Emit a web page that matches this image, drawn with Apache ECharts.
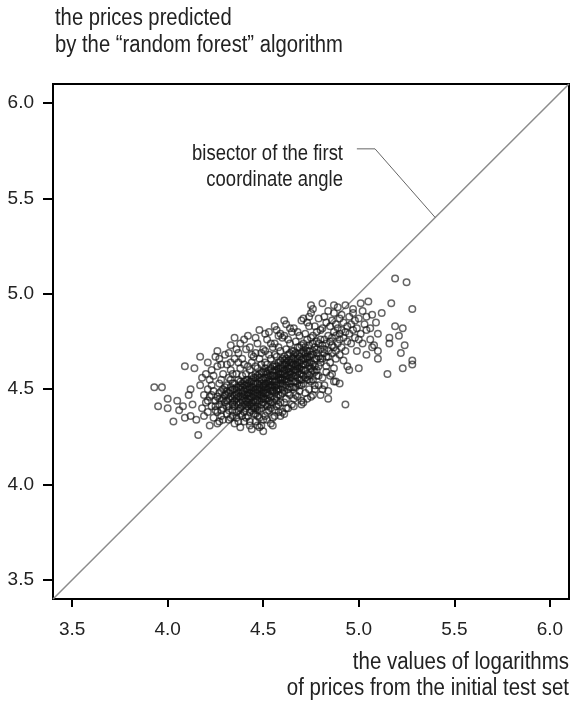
<!DOCTYPE html>
<html>
<head>
<meta charset="utf-8">
<script src="https://cdn.jsdelivr.net/npm/echarts@6/dist/echarts.min.js"></script>
<style>
html,body{margin:0;padding:0;background:#fff;}
#chart{width:571px;height:705px;}
</style>
</head>
<body>
<div id="chart"></div>
<script>
// Axis ticks
var tickValues = [3.5, 4.0, 4.5, 5.0, 5.5, 6.0];
var axisRange = [3.4, 6.1];

// Test-set points: [log price actual, log price predicted]
var leftTail = [[3.93,4.51],[3.97,4.51],[4.00,4.45],[3.95,4.41],[4.00,4.40],[4.03,4.33],[4.06,4.39],[4.08,4.41],[4.09,4.35],[4.12,4.36],[4.15,4.34],[4.16,4.26],[4.09,4.62],[4.14,4.61],[4.17,4.67],[4.05,4.44],[4.11,4.47],[4.13,4.42],[4.18,4.40],[4.19,4.47],[4.17,4.52],[4.19,4.36],[4.12,4.50],[4.18,4.56],
[4.35,4.77],[4.48,4.81],[4.22,4.31],[4.26,4.32],[4.47,4.31],[4.50,4.28],[4.27,4.66],[4.33,4.64]];

var coreCloud = [
[4.20,4.43],[4.21,4.50],[4.21,4.38],[4.22,4.55],[4.22,4.46],[4.23,4.41],[4.23,4.60],[4.24,4.49],[4.24,4.35],[4.20,4.58],[4.25,4.44],[4.21,4.64],[4.23,4.52],[4.25,4.39],[4.24,4.57],
[4.26,4.46],[4.26,4.38],[4.27,4.53],[4.27,4.42],[4.28,4.49],[4.28,4.36],[4.29,4.58],[4.29,4.45],[4.26,4.62],[4.27,4.33],[4.28,4.55],[4.29,4.40],[4.30,4.51],[4.30,4.47],[4.26,4.70],[4.28,4.44],[4.29,4.34],[4.27,4.48],
[4.31,4.44],[4.31,4.52],[4.31,4.37],[4.32,4.48],[4.32,4.56],[4.32,4.41],[4.33,4.46],[4.33,4.35],[4.33,4.60],[4.34,4.50],[4.34,4.43],[4.34,4.39],[4.35,4.53],[4.35,4.47],[4.35,4.32],[4.31,4.63],[4.32,4.69],[4.33,4.55],[4.34,4.58],[4.35,4.41],[4.32,4.34],[4.34,4.45],[4.31,4.49],[4.33,4.51],[4.35,4.66],
[4.36,4.45],[4.36,4.51],[4.36,4.38],[4.36,4.58],[4.37,4.48],[4.37,4.42],[4.37,4.55],[4.37,4.33],[4.38,4.50],[4.38,4.46],[4.38,4.61],[4.38,4.40],[4.39,4.53],[4.39,4.44],[4.39,4.36],[4.39,4.57],[4.40,4.49],[4.40,4.42],[4.40,4.63],[4.36,4.71],[4.37,4.64],[4.38,4.30],[4.39,4.48],[4.40,4.54],[4.36,4.47],[4.37,4.51],[4.38,4.54],[4.39,4.41],[4.40,4.38],[4.38,4.74],
[4.41,4.47],[4.41,4.52],[4.41,4.40],[4.41,4.58],[4.42,4.45],[4.42,4.50],[4.42,4.36],[4.42,4.62],[4.43,4.48],[4.43,4.54],[4.43,4.42],[4.43,4.33],[4.44,4.51],[4.44,4.46],[4.44,4.57],[4.44,4.39],[4.45,4.49],[4.45,4.53],[4.45,4.44],[4.45,4.67],[4.41,4.71],[4.42,4.55],[4.43,4.60],[4.44,4.29],[4.45,4.37],[4.41,4.44],[4.42,4.41],[4.43,4.51],[4.44,4.64],[4.45,4.56],[4.42,4.78],[4.43,4.46],[4.44,4.43],[4.41,4.35],[4.45,4.41],[4.43,4.38],[4.42,4.48],[4.44,4.54],
[4.46,4.50],[4.46,4.45],[4.46,4.56],[4.46,4.40],[4.47,4.53],[4.47,4.48],[4.47,4.61],[4.47,4.36],[4.48,4.51],[4.48,4.44],[4.48,4.58],[4.48,4.39],[4.49,4.55],[4.49,4.47],[4.49,4.63],[4.49,4.42],[4.50,4.52],[4.50,4.46],[4.50,4.59],[4.50,4.34],[4.46,4.69],[4.47,4.41],[4.48,4.66],[4.49,4.31],[4.50,4.71],[4.46,4.53],[4.47,4.57],[4.48,4.47],[4.49,4.50],[4.50,4.43],[4.46,4.37],[4.47,4.44],[4.48,4.54],[4.49,4.59],[4.50,4.55],[4.46,4.62],[4.47,4.74],[4.48,4.35],[4.49,4.45],[4.50,4.49],
[4.51,4.53],[4.51,4.48],[4.51,4.59],[4.51,4.42],[4.52,4.56],[4.52,4.50],[4.52,4.63],[4.52,4.38],[4.53,4.54],[4.53,4.47],[4.53,4.60],[4.53,4.44],[4.54,4.57],[4.54,4.51],[4.54,4.66],[4.54,4.40],[4.55,4.55],[4.55,4.49],[4.55,4.62],[4.55,4.35],[4.51,4.70],[4.52,4.45],[4.53,4.68],[4.54,4.46],[4.55,4.72],[4.51,4.36],[4.52,4.58],[4.53,4.51],[4.54,4.61],[4.55,4.43],[4.51,4.56],[4.52,4.53],[4.53,4.57],[4.54,4.54],[4.55,4.59],[4.51,4.64],[4.52,4.76],[4.53,4.39],[4.54,4.32],[4.55,4.52],[4.53,4.80],[4.52,4.41],
[4.56,4.57],[4.56,4.51],[4.56,4.63],[4.56,4.45],[4.57,4.60],[4.57,4.54],[4.57,4.67],[4.57,4.41],[4.58,4.58],[4.58,4.52],[4.58,4.64],[4.58,4.47],[4.59,4.61],[4.59,4.55],[4.59,4.70],[4.59,4.43],[4.60,4.59],[4.60,4.53],[4.60,4.66],[4.60,4.38],[4.56,4.74],[4.57,4.49],[4.58,4.72],[4.59,4.50],[4.60,4.77],[4.56,4.39],[4.57,4.62],[4.58,4.56],[4.59,4.65],[4.60,4.48],[4.56,4.60],[4.57,4.57],[4.58,4.61],[4.59,4.58],[4.60,4.63],[4.56,4.68],[4.57,4.81],[4.58,4.42],[4.59,4.36],[4.60,4.56],[4.58,4.78],[4.57,4.46],
[4.61,4.60],[4.61,4.55],[4.61,4.67],[4.61,4.49],[4.62,4.63],[4.62,4.57],[4.62,4.71],[4.62,4.45],[4.63,4.61],[4.63,4.54],[4.63,4.68],[4.63,4.50],[4.64,4.64],[4.64,4.58],[4.64,4.74],[4.64,4.47],[4.65,4.62],[4.65,4.56],[4.65,4.70],[4.65,4.42],[4.61,4.78],[4.62,4.52],[4.63,4.76],[4.64,4.53],[4.65,4.80],[4.61,4.43],[4.62,4.66],[4.63,4.59],[4.64,4.69],[4.65,4.51],[4.61,4.63],[4.62,4.60],[4.63,4.65],[4.64,4.61],[4.65,4.66],[4.62,4.84],[4.63,4.40],[4.64,4.82],
[4.66,4.63],[4.66,4.57],[4.66,4.70],[4.66,4.51],[4.67,4.66],[4.67,4.60],[4.67,4.75],[4.67,4.47],[4.68,4.64],[4.68,4.56],[4.68,4.72],[4.68,4.53],[4.69,4.67],[4.69,4.61],[4.69,4.78],[4.69,4.49],[4.70,4.65],[4.70,4.58],[4.70,4.73],[4.70,4.44],[4.66,4.82],[4.67,4.54],[4.68,4.80],[4.69,4.55],[4.70,4.86],[4.66,4.45],[4.67,4.69],[4.68,4.62],[4.69,4.72],[4.70,4.52],[4.66,4.66],[4.67,4.63],[4.68,4.68],[4.69,4.64],[4.70,4.69],
[4.71,4.66],[4.71,4.60],[4.71,4.74],[4.71,4.53],[4.72,4.69],[4.72,4.63],[4.72,4.79],[4.72,4.48],[4.73,4.67],[4.73,4.58],[4.73,4.76],[4.73,4.55],[4.74,4.70],[4.74,4.64],[4.74,4.83],[4.74,4.50],[4.75,4.68],[4.75,4.61],[4.75,4.77],[4.75,4.46],[4.71,4.87],[4.72,4.56],[4.73,4.85],[4.74,4.57],[4.75,4.90],[4.71,4.43],[4.72,4.72],[4.73,4.64],[4.74,4.73],[4.75,4.54],
[4.76,4.70],[4.76,4.63],[4.76,4.78],[4.76,4.55],[4.77,4.72],[4.77,4.66],[4.77,4.83],[4.77,4.50],[4.78,4.69],[4.78,4.60],[4.78,4.80],[4.78,4.57],[4.79,4.74],[4.79,4.67],[4.79,4.87],[4.79,4.52],[4.80,4.71],[4.80,4.64],[4.80,4.81],[4.80,4.47],[4.76,4.92],[4.77,4.59],[4.78,4.75],[4.79,4.62],[4.80,4.76],
[4.81,4.73],[4.81,4.66],[4.81,4.82],[4.81,4.56],[4.82,4.76],[4.82,4.69],[4.82,4.88],[4.82,4.52],[4.83,4.74],[4.83,4.62],[4.83,4.85],[4.83,4.59],[4.84,4.78],[4.84,4.70],[4.84,4.91],[4.84,4.49],[4.85,4.75],[4.85,4.64],[4.85,4.83],[4.81,4.95],[4.83,4.67],[4.85,4.57],
[4.86,4.77],[4.86,4.69],[4.86,4.86],[4.86,4.58],[4.87,4.80],[4.87,4.72],[4.87,4.90],[4.87,4.61],[4.88,4.78],[4.88,4.66],[4.88,4.84],[4.88,4.54],[4.89,4.82],[4.89,4.74],[4.89,4.93],[4.90,4.79],[4.90,4.68],[4.90,4.87],
[4.91,4.81],[4.91,4.72],[4.91,4.89],[4.92,4.77],[4.92,4.65],[4.92,4.85],[4.93,4.80],[4.93,4.70],[4.93,4.94],[4.94,4.83],[4.94,4.75],[4.95,4.79],[4.95,4.88],[4.94,4.62],
[4.96,4.84],[4.96,4.74],[4.97,4.90],[4.97,4.81],[4.98,4.77],[4.98,4.86],[4.99,4.82],[4.99,4.70],[5.00,4.87],[5.01,4.79],[5.02,4.91],[5.02,4.74],[5.03,4.84],[5.04,4.88],
[5.06,4.82],[5.06,4.76],[5.07,4.89],[5.08,4.73],[5.09,4.85],[5.10,4.79]];

var denseCore = [[4.38,4.52],[4.40,4.47],[4.42,4.53],[4.44,4.49],[4.46,4.48],[4.48,4.49],[4.50,4.51],[4.52,4.48],[4.54,4.49],[4.56,4.54],[4.58,4.50],[4.60,4.61],[4.62,4.55],[4.64,4.56],[4.66,4.60],[4.68,4.59],[4.70,4.62],[4.72,4.66],[4.74,4.67],[4.76,4.68],
[4.39,4.46],[4.41,4.50],[4.43,4.45],[4.45,4.51],[4.47,4.50],[4.49,4.53],[4.51,4.51],[4.53,4.55],[4.55,4.57],[4.57,4.52],[4.59,4.56],[4.61,4.58],[4.63,4.57],[4.65,4.64],[4.67,4.62],[4.69,4.58],[4.71,4.63],[4.73,4.70],
[4.30,4.68],[4.33,4.73],[4.37,4.69],[4.40,4.76],[4.43,4.72],[4.46,4.77],[4.49,4.69],[4.51,4.79],[4.54,4.74],[4.56,4.83],[4.59,4.79],[4.61,4.86],[4.44,4.68],[4.39,4.66],[4.28,4.63],[4.25,4.67],
[4.40,4.33],[4.43,4.31],[4.46,4.33],[4.52,4.34],[4.56,4.36],[4.58,4.38],[4.62,4.40],[4.66,4.41],[4.70,4.42],[4.73,4.45],[4.55,4.31],[4.48,4.30],[4.61,4.37],[4.68,4.46],[4.36,4.35],[4.34,4.36]];

var centralBand = [[4.30,4.43],[4.31,4.47],[4.32,4.39],[4.33,4.49],[4.34,4.42],[4.35,4.50],[4.36,4.43],[4.37,4.46],[4.38,4.37],[4.39,4.51],
[4.40,4.45],[4.41,4.55],[4.42,4.43],[4.43,4.50],[4.44,4.41],[4.45,4.47],[4.46,4.58],[4.47,4.46],[4.48,4.52],[4.49,4.40],
[4.50,4.48],[4.51,4.61],[4.52,4.47],[4.53,4.52],[4.54,4.43],[4.55,4.50],[4.56,4.62],[4.57,4.50],[4.58,4.55],[4.59,4.47],
[4.60,4.55],[4.61,4.65],[4.62,4.54],[4.63,4.62],[4.64,4.51],[4.65,4.58],[4.66,4.68],[4.67,4.57],[4.68,4.61],[4.69,4.52],
[4.70,4.60],[4.71,4.70],[4.72,4.60],[4.73,4.66],[4.74,4.55],[4.75,4.64],[4.76,4.74],[4.77,4.62],[4.78,4.66],[4.79,4.57],
[4.32,4.45],[4.34,4.53],[4.36,4.49],[4.38,4.43],[4.40,4.52],[4.42,4.47],[4.44,4.55],[4.46,4.43],[4.48,4.56],[4.50,4.45],
[4.52,4.59],[4.54,4.52],[4.56,4.48],[4.58,4.59],[4.60,4.51],[4.62,4.64],[4.64,4.59],[4.66,4.54],[4.68,4.66],[4.70,4.55],
[4.72,4.68],[4.74,4.62],[4.76,4.60],[4.78,4.71],[4.80,4.66],[4.82,4.71],[4.84,4.67],[4.86,4.73],[4.88,4.70],[4.90,4.76],
[4.27,4.45],[4.29,4.50],[4.25,4.41],[4.23,4.47],[4.21,4.44],[4.28,4.39],[4.31,4.41],[4.35,4.44],[4.37,4.39],[4.41,4.42],
[4.45,4.40],[4.47,4.39],[4.51,4.45],[4.53,4.42],[4.57,4.44],[4.59,4.53],[4.63,4.48],[4.67,4.51],[4.71,4.57],[4.75,4.59]];

var rightTail = [[5.19,5.08],[5.25,5.06],[5.17,4.95],[5.12,4.90],[5.28,4.92],[4.75,4.94],[4.87,4.94],[4.74,4.88],[5.05,4.96],[5.01,4.95],[4.97,4.92],[5.19,4.83],[5.23,4.82],[5.16,4.77],[5.21,4.78],[5.16,4.74],[5.24,4.73],[5.22,4.69],[5.28,4.65],[5.28,4.63],[5.23,4.61],[5.15,4.58],[5.10,4.66],[5.07,4.72],[5.10,4.70],[5.04,4.81],[5.00,4.76],[5.04,4.68],[5.00,4.61],[4.84,4.45],[4.93,4.42],[4.95,4.60],[4.90,4.53],[4.87,4.54],[4.81,4.50],[4.76,4.47],[4.77,4.52]];

// Reference line y = x and annotation leader
var bisector = [[3.4,3.4],[6.1,6.1]];
var leaderLine = [[4.99,5.76],[5.085,5.76],[5.40,5.40]];

var FONT = "'Liberation Sans',Arial,sans-serif";
var chart = echarts.init(document.getElementById('chart'), null, {renderer:'canvas'});

var pointStyle = {color:'rgba(0,0,0,0)', borderColor:'rgba(20,20,20,0.82)', borderWidth:1.5};

function axisCommon(isX){
  return {
    type:'value', min:axisRange[0], max:axisRange[1],
    axisLine:{show:true, onZero:false, lineStyle:{color:'#000', width:2}},
    axisTick:{show:true, customValues:tickValues, length:isX?8:10, inside:false, lineStyle:{color:'#000', width:2}},
    axisLabel:{show:true, customValues:tickValues, margin:isX?21:19, fontSize:19, fontFamily:FONT, color:'#222',
      formatter:function(v){return v.toFixed(1);}},
    splitLine:{show:false}
  };
}

function label(text, x, y, size, sx, align){
  return {type:'text', x:x, y:y, scaleX:sx, originX:0, style:{text:text, font:size+'px '+FONT, fill:'#222', align:align, verticalAlign:'middle'}};
}

function pts(data){
  return {type:'scatter', data:data, symbol:'circle', symbolSize:6.5, itemStyle:pointStyle, z:3};
}

chart.setOption({
  animation:false,
  backgroundColor:'#fff',
  grid:{left:53, top:84, width:516, height:515, show:true, borderColor:'#000', borderWidth:2, backgroundColor:'rgba(0,0,0,0)'},
  xAxis: axisCommon(true),
  yAxis: axisCommon(false),
  series:[
    {type:'line', data:bisector, symbol:'none', z:1, lineStyle:{color:'#8c8c8c', width:1.5}, silent:true},
    {type:'line', data:leaderLine, symbol:'none', z:1, lineStyle:{color:'#666', width:1}, silent:true},
    pts(coreCloud), pts(denseCore), pts(centralBand), pts(leftTail), pts(rightTail)
  ],
  graphic:[
    label('the prices predicted', 55, 19, 23, 0.88, 'left'),
    label('by the \u201crandom forest\u201d algorithm', 55, 46, 23, 0.88, 'left'),
    {type:'group', x:343, y:0, scaleX:0.84, children:[
      {type:'text', x:0, y:154, style:{text:'bisector of the first', font:'22px '+FONT, fill:'#222', align:'right', verticalAlign:'middle'}},
      {type:'text', x:0, y:180, style:{text:'coordinate angle', font:'22px '+FONT, fill:'#222', align:'right', verticalAlign:'middle'}}
    ]},
    {type:'group', x:569, y:0, scaleX:0.89, children:[
      {type:'text', x:0, y:663, style:{text:'the values of logarithms', font:'23px '+FONT, fill:'#222', align:'right', verticalAlign:'middle'}},
      {type:'text', x:0, y:689, style:{text:'of prices from the initial test set', font:'23px '+FONT, fill:'#222', align:'right', verticalAlign:'middle'}}
    ]}
  ]
});
</script>
</body>
</html>
